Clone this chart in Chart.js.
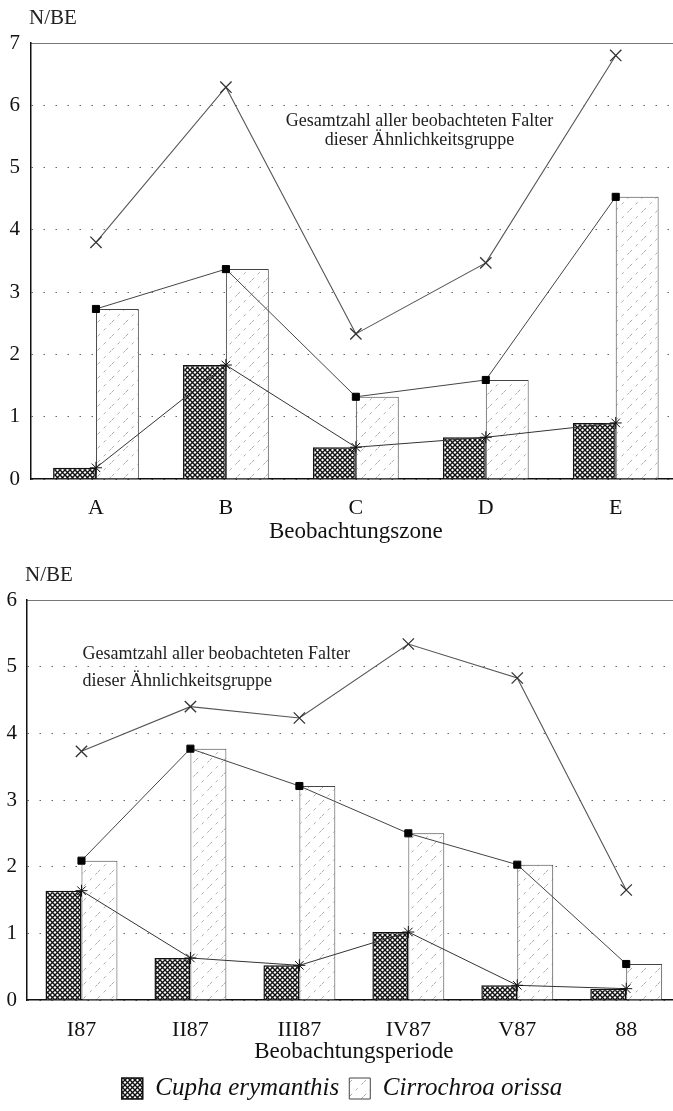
<!DOCTYPE html>
<html>
<head>
<meta charset="utf-8">
<script src="https://cdn.jsdelivr.net/npm/chart.js@4/dist/chart.umd.min.js"></script>
<style>
  html, body { margin: 0; background: #fff; overflow: hidden; }
  .panel { position: absolute; left: 0; width: 673px; overflow: hidden; }
  #top { top: 0; height: 550px; }
  #bottom { top: 550px; height: 561px; }
</style>
</head>
<body>
<div class="panel" id="top"><canvas id="zone" width="690" height="550"></canvas></div>
<div class="panel" id="bottom"><canvas id="period" width="690" height="561"></canvas></div>
<script>
// N/BE per observation zone
const zones = ["A", "B", "C", "D", "E"];
const zoneCupha = [0.18, 1.83, 0.51, 0.67, 0.90];
const zoneCirro = [2.73, 3.37, 1.32, 1.59, 4.53];
const zoneTotal = [3.80, 6.29, 2.33, 3.47, 6.80];

// N/BE per observation period
const periods = ["I87", "II87", "III87", "IV87", "V87", "88"];
const periodCupha = [1.64, 0.63, 0.52, 1.02, 0.22, 0.17];
const periodCirro = [2.09, 3.77, 3.21, 2.50, 2.03, 0.54];
const periodTotal = [3.73, 4.40, 4.23, 5.34, 4.83, 1.65];

const note = ["Gesamtzahl aller beobachteten Falter", "dieser Ähnlichkeitsgruppe"];
const SERIF = "'Liberation Serif', 'DejaVu Serif', serif";

function tile(size, draw) {
  const c = document.createElement("canvas");
  c.width = c.height = size;
  const g = c.getContext("2d");
  g.fillStyle = "#fff";
  g.fillRect(0, 0, size, size);
  draw(g, size);
  return c.getContext("2d").createPattern(c, "repeat");
}

// dense cross hatch (Cupha) and sparse diagonal hatch (Cirrochroa)
const cross = tile(5, (g, s) => {
  g.strokeStyle = "#111";
  g.lineWidth = 1.4;
  g.beginPath();
  g.moveTo(0, 0); g.lineTo(s, s);
  g.moveTo(s, 0); g.lineTo(0, s);
  g.stroke();
});
const diag = tile(14, (g, s) => {
  g.strokeStyle = "#999";
  g.lineWidth = 0.8;
  g.setLineDash([3, 5]);
  g.beginPath();
  g.moveTo(0, s); g.lineTo(s, 0);
  g.stroke();
});

// axis caption above the y axis and the text note inside the plot
const notes = {
  id: "notes",
  afterDraw(chart, args, o) {
    const { ctx, chartArea: a, scales: { y } } = chart;
    ctx.save();
    ctx.fillStyle = "#222";
    ctx.textBaseline = "middle";
    ctx.font = `21px ${SERIF}`;
    ctx.fillText("N/BE", a.left - 2, a.top - 25);
    ctx.font = `18px ${SERIF}`;
    ctx.textAlign = o.align;
    const x = a.left + o.at * (a.right - a.left);
    note.forEach((t, i) => ctx.fillText(t, x, y.getPixelForValue(o.y[i])));
    ctx.restore();
  }
};

function build(id, labels, cupha, cirro, total, o) {
  return new Chart(document.getElementById(id), {
    type: "bar",
    data: {
      labels,
      datasets: [
        { type: "line", label: "Gesamtzahl", data: total, order: 1, borderColor: "#555", borderWidth: 1.1,
          pointStyle: "crossRot", pointRadius: 8, pointBorderColor: "#333", pointBorderWidth: 1.3 },
        { type: "line", label: "Cirrochroa", data: cirro, order: 1, borderColor: "#444", borderWidth: 1,
          pointStyle: "rect", pointRadius: 5, pointBackgroundColor: "#000", pointBorderColor: "#000" },
        { type: "line", label: "Cupha", data: cupha, order: 1, borderColor: "#333", borderWidth: 1,
          pointStyle: "star", pointRadius: 6, pointBorderColor: "#111", pointBorderWidth: 1 },
        { label: "Cupha erymanthis", data: cupha, order: 2, backgroundColor: cross, borderColor: "#111", borderWidth: 1.5 },
        { label: "Cirrochroa orissa", data: cirro, order: 2, backgroundColor: diag, borderColor: "#444", borderWidth: 1 }
      ]
    },
    options: {
      responsive: false,
      animation: false,
      layout: { padding: { top: o.top, right: o.right, left: 0, bottom: 0 } },
      datasets: { bar: { categoryPercentage: 0.66, barPercentage: 1 } },
      scales: {
        x: {
          grid: { display: false },
          border: { color: "#111", width: 1.5 },
          ticks: { color: "#111", font: { family: SERIF, size: 22 }, padding: o.tickPad, autoSkip: false, maxRotation: 0 },
          title: { display: true, text: o.title, color: "#111", font: { family: SERIF, size: 23 }, padding: { top: 0, bottom: o.titlePad } },
          afterFit: s => { s.height = o.xh; }
        },
        x2: {
          type: "category",
          position: "top",
          grid: { display: false },
          ticks: { display: false },
          border: { color: "#777", width: 1 },
          afterFit: s => { s.height = 0; }
        },
        y: {
          min: 0,
          max: o.ymax,
          ticks: { stepSize: 1, color: "#111", font: { family: SERIF, size: 21 }, padding: o.yPad },
          grid: { color: "#666", drawTicks: false },
          border: { color: "#111", width: 1.5, dash: [1.5, 10.5] },
          afterFit: s => { s.width = o.yw; }
        }
      },
      plugins: {
        tooltip: { enabled: false },
        legend: {
          display: o.legend,
          position: "bottom",
          labels: {
            filter: it => it.datasetIndex >= 3,
            color: "#111",
            font: { family: SERIF, size: 25, style: "italic" },
            boxWidth: 21,
            boxHeight: 21,
            padding: 10
          }
        },
        notes: o.note
      }
    },
    plugins: [notes]
  });
}

build("zone", zones, zoneCupha, zoneCirro, zoneTotal, {
  ymax: 7, top: 43, right: 9, yw: 31, yPad: 11, xh: 71, tickPad: 8, titlePad: 4,
  title: "Beobachtungszone", legend: false,
  note: { align: "center", at: 0.598, y: [5.75, 5.44] }
});

build("period", periods, periodCupha, periodCirro, periodTotal, {
  ymax: 6, top: 50, right: 6, yw: 27, yPad: 10, xh: 66, tickPad: 9, titlePad: 0,
  title: "Beobachtungsperiode", legend: true,
  note: { align: "left", at: 0.085, y: [5.19, 4.78] }
});
</script>
</body>
</html>
